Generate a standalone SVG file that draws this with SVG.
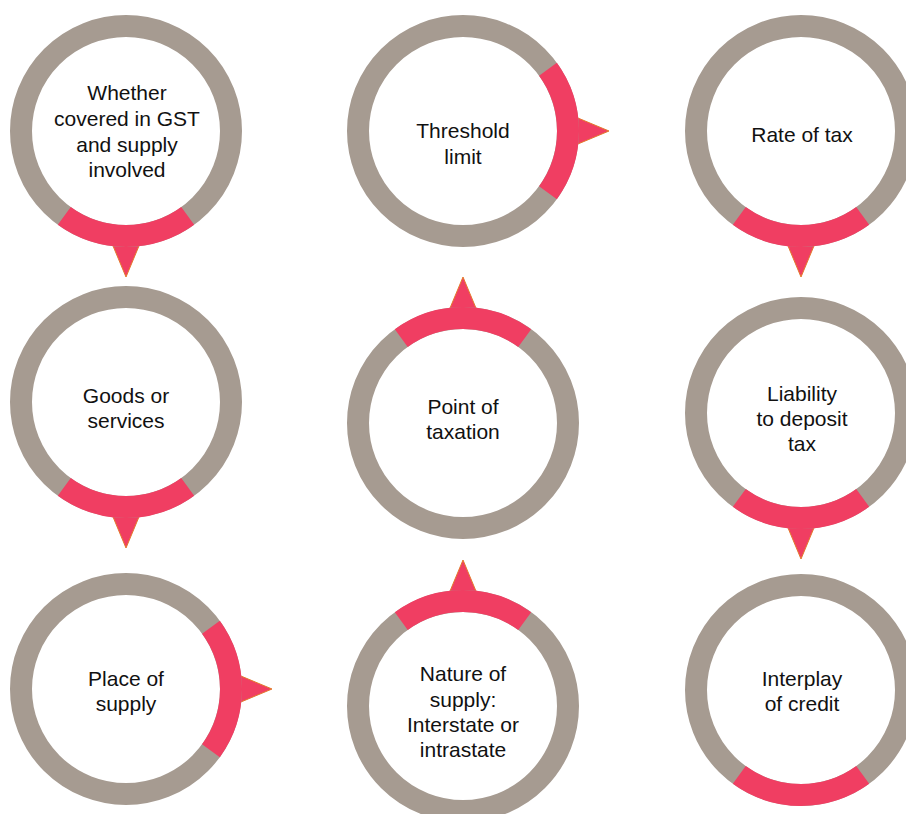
<svg xmlns="http://www.w3.org/2000/svg" xmlns:xlink="http://www.w3.org/1999/xlink" width="906" height="814" viewBox="0 0 906 814">
  <style>
    .ring { fill: none; stroke: #A69B91; stroke-width: 22; }
    .hl { fill: none; stroke: #F03E62; stroke-width: 22; stroke-linecap: butt; }
    .ptr { fill: #F03E62; stroke: #E47A2C; stroke-width: 1; stroke-linejoin: miter; }
    text { font-family: "Liberation Sans", Arial, Helvetica, sans-serif; font-size: 21px; fill: #111; text-anchor: middle; }
  </style>
  <defs>
    <!-- highlighted 72-degree segment of a ring, facing +x -->
    <path id="arc" class="hl" d="M 84.95 -61.72 A 105 105 0 0 1 84.95 61.72"/>
    <!-- pointer wedge, facing +x -->
    <polygon id="wedge" class="ptr" points="112,-14.2 146,0 112,14.2"/>
  </defs>
  <rect width="906" height="814" fill="#FFFFFF"/>

  <!-- pointers from one step to the next -->
  <g id="connectors">
    <use xlink:href="#wedge" transform="translate(126,131) rotate(90)"/>
    <use xlink:href="#wedge" transform="translate(463,131)"/>
    <use xlink:href="#wedge" transform="translate(801,131) rotate(90)"/>
    <use xlink:href="#wedge" transform="translate(126,402) rotate(90)"/>
    <use xlink:href="#wedge" transform="translate(463,423) rotate(-90)"/>
    <use xlink:href="#wedge" transform="translate(801,413) rotate(90)"/>
    <use xlink:href="#wedge" transform="translate(126,689)"/>
    <use xlink:href="#wedge" transform="translate(463,706) rotate(-90)"/>
  </g>

  <g id="node-coverage">
    <circle class="ring" cx="126" cy="131" r="105"/>
    <use xlink:href="#arc" transform="translate(126,131) rotate(90)"/>
    <text x="127" y="100">Whether</text>
    <text x="127" y="126">covered in GST</text>
    <text x="127" y="152">and supply</text>
    <text x="127" y="177">involved</text>
  </g>

  <g id="node-threshold">
    <circle class="ring" cx="463" cy="131" r="105"/>
    <use xlink:href="#arc" transform="translate(463,131)"/>
    <text x="463" y="138">Threshold</text>
    <text x="463" y="164">limit</text>
  </g>

  <g id="node-rate">
    <circle class="ring" cx="801" cy="131" r="105"/>
    <use xlink:href="#arc" transform="translate(801,131) rotate(90)"/>
    <text x="802" y="142">Rate of tax</text>
  </g>

  <g id="node-goods-services">
    <circle class="ring" cx="126" cy="402" r="105"/>
    <use xlink:href="#arc" transform="translate(126,402) rotate(90)"/>
    <text x="126" y="403">Goods or</text>
    <text x="126" y="428">services</text>
  </g>

  <g id="node-point-of-taxation">
    <circle class="ring" cx="463" cy="423" r="105"/>
    <use xlink:href="#arc" transform="translate(463,423) rotate(-90)"/>
    <text x="463" y="414">Point of</text>
    <text x="463" y="439">taxation</text>
  </g>

  <g id="node-liability">
    <circle class="ring" cx="801" cy="413" r="105"/>
    <use xlink:href="#arc" transform="translate(801,413) rotate(90)"/>
    <text x="802" y="401">Liability</text>
    <text x="802" y="426">to deposit</text>
    <text x="802" y="451">tax</text>
  </g>

  <g id="node-place-of-supply">
    <circle class="ring" cx="126" cy="689" r="105"/>
    <use xlink:href="#arc" transform="translate(126,689)"/>
    <text x="126" y="686">Place of</text>
    <text x="126" y="711">supply</text>
  </g>

  <g id="node-nature-of-supply">
    <circle class="ring" cx="463" cy="706" r="105"/>
    <use xlink:href="#arc" transform="translate(463,706) rotate(-90)"/>
    <text x="463" y="681">Nature of</text>
    <text x="463" y="707">supply:</text>
    <text x="463" y="732">Interstate or</text>
    <text x="463" y="757">intrastate</text>
  </g>

  <g id="node-credit">
    <circle class="ring" cx="801" cy="690" r="105"/>
    <use xlink:href="#arc" transform="translate(801,690) rotate(90)"/>
    <text x="802" y="686">Interplay</text>
    <text x="802" y="711">of credit</text>
  </g>
</svg>
